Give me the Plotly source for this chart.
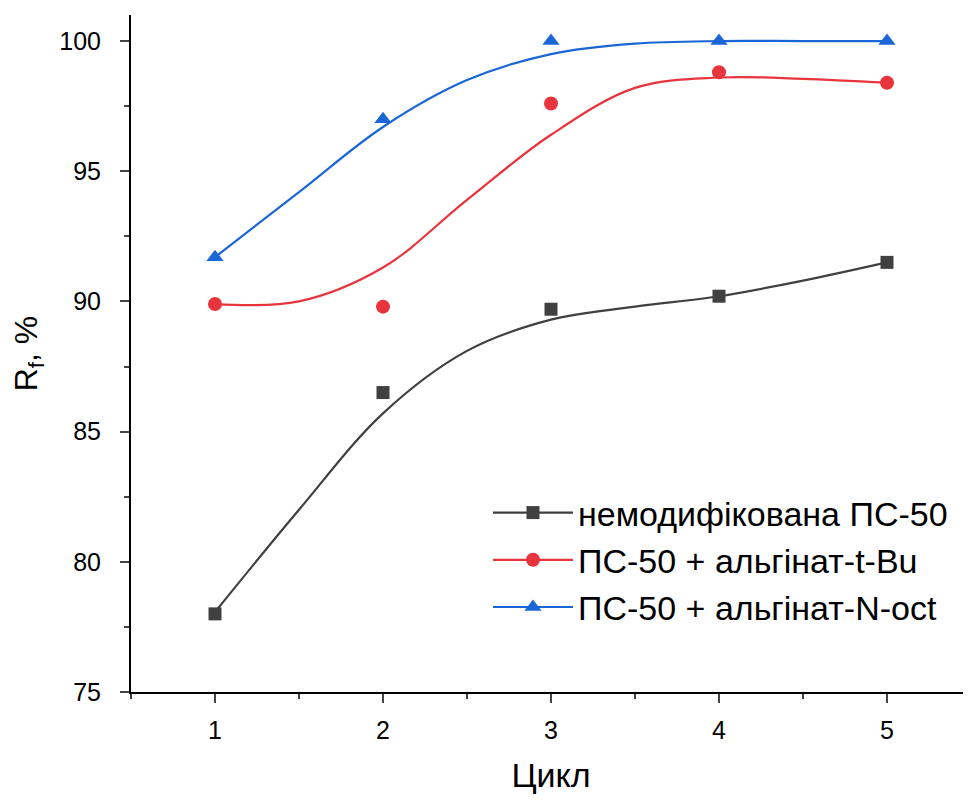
import plotly.graph_objects as go

# ---- data ----
cycles = [1, 2, 3, 4, 5]
unmod = [78.0, 86.5, 89.7, 90.2, 91.5]
tbu = [89.9, 89.8, 97.6, 98.8, 98.4]
noct = [91.7, 97.0, 100.0, 100.0, 100.0]

# smooth fitted curves, values at half-step positions
fit_x = [1, 1.5, 2, 2.5, 3, 3.5, 4, 4.5, 5]
fit_unmod = [78.07, 82.0, 85.7, 88.1, 89.3, 89.8, 90.2, 90.8, 91.5]
fit_tbu = [89.9, 90.0, 91.3, 93.9, 96.4, 98.2, 98.6, 98.55, 98.4]
fit_noct = [91.7, 94.2, 96.7, 98.5, 99.5, 99.9, 100.0, 100.0, 100.0]

names = ["немодифікована ПС-50", "ПС-50 + альгінат-t-Bu", "ПС-50 + альгінат-N-oct"]
colors = ["#404040", "#e8343c", "#1a66d6"]
symbols = ["square", "circle", "triangle-up"]
sizes = [13, 14, 15]

FONT = "Liberation Sans, Arial, sans-serif"

fig = go.Figure()
for fy, c in zip([fit_unmod, fit_tbu, fit_noct], colors):
    fig.add_trace(go.Scatter(x=fit_x, y=fy, mode="lines", line=dict(color=c, width=2.2, shape="spline", smoothing=1.0),
                             showlegend=False, hoverinfo="skip"))
for ys, c, s, sz in zip([unmod, tbu, noct], colors, symbols, sizes):
    fig.add_trace(go.Scatter(x=cycles, y=ys, mode="markers", marker=dict(color=c, symbol=s, size=sz),
                             showlegend=False))
for n, c, s, sz in zip(names, colors, symbols, sizes):
    fig.add_trace(go.Scatter(x=[None], y=[None], mode="lines+markers", name=n,
                             line=dict(color=c, width=2.2), marker=dict(color=c, symbol=s, size=sz)))

# page body has an 8px margin: size the figure so the plot lands where the reference has it
fig.update_layout(
    width=963, height=792,
    paper_bgcolor="white", plot_bgcolor="white",
    margin=dict(l=123, r=0, t=7, b=108, autoexpand=False),
    font=dict(family=FONT, color="black"),
    legend=dict(x=0.425, y=0.195, xanchor="left", yanchor="middle", bgcolor="rgba(0,0,0,0)",
                font=dict(size=34, family=FONT), itemwidth=80, tracegroupgap=0),
    xaxis=dict(range=[0.5, 5.5], tickvals=cycles, ticks="outside", ticklen=9, tickwidth=2,
               showline=True, linecolor="black", linewidth=2, showgrid=False, zeroline=False,
               tickfont=dict(size=25), ticklabelstandoff=6, automargin=False,
               minor=dict(dtick=0.5, tick0=0.5, ticks="outside", ticklen=5, tickwidth=2, showgrid=False),
               title=dict(text="Цикл", font=dict(size=34), standoff=20)),
    yaxis=dict(range=[75, 101], tickvals=[75, 80, 85, 90, 95, 100], ticks="outside", ticklen=9, tickwidth=2,
               showline=True, linecolor="black", linewidth=2, showgrid=False, zeroline=False,
               tickfont=dict(size=25), ticklabelstandoff=14, automargin=False,
               minor=dict(dtick=2.5, tick0=75, ticks="outside", ticklen=5, tickwidth=2, showgrid=False),
               title=dict(text="R<sub>f</sub>, %", font=dict(size=32), standoff=14)),
)

fig.write_html("out.html")
